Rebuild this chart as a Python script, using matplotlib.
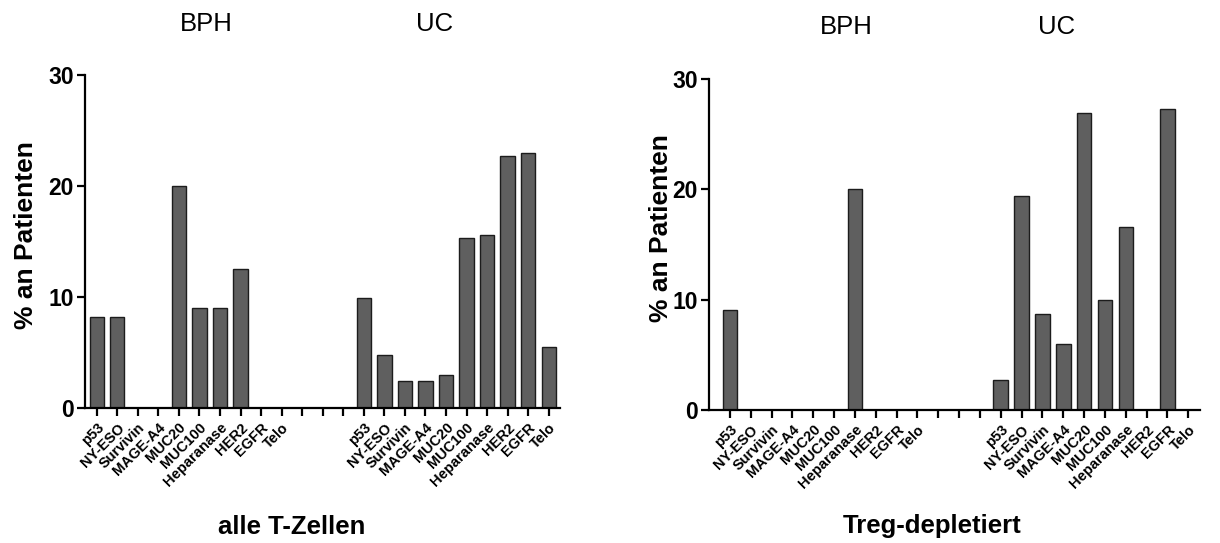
import numpy as np
import matplotlib
matplotlib.use("Agg")
import matplotlib.pyplot as plt

plt.rcParams['font.family'] = ['Liberation Sans', 'DejaVu Sans']

# ---- data ----
antigens = ["p53", "NY-ESO", "Survivin", "MAGE-A4", "MUC20", "MUC100",
            "Heparanase", "HER2", "EGFR", "Telo"]
groups = ["BPH", "UC"]

alle_bph = [8.2, 8.2, 0, 0, 20.0, 9.0, 9.0, 12.5, 0, 0]
alle_uc = [9.9, 4.8, 2.4, 2.4, 3.0, 15.3, 15.6, 22.7, 23.0, 5.5]
treg_bph = [9.1, 0, 0, 0, 0, 0, 20.0, 0, 0, 0]
treg_uc = [2.7, 19.4, 8.7, 6.0, 26.9, 10.0, 16.6, 0, 27.3, 0]

panel_titles = ["alle T-Zellen", "Treg-depletiert"]
ylabel = "% an Patienten"

# ---- layout ----
gap = 3  # empty ticks between BPH and UC
n = len(antigens)
pos_bph = np.arange(n)
pos_uc = np.arange(n) + n + gap
all_ticks = np.arange(2 * n + gap)
tick_labels = antigens + [""] * gap + antigens

bar_fill = "#5f5f5f"
bar_edge = "#1c1c1c"

fig = plt.figure(figsize=(12.2, 5.43), dpi=100)

# axes boxes in figure fraction (from pixel positions in reference)
boxes = [
    [85 / 1220, 135 / 543, 475 / 1220, 333 / 543],
    [709 / 1220, 133 / 543, 491 / 1220, 331 / 543],
]
xlims = [(-0.57, 22.55), (-1.0, 22.56)]
data = [(alle_bph, alle_uc), (treg_bph, treg_uc)]
ylab_xy = [(-0.099, 0.52), (-0.073, 0.55)]
title_xy = [(0.436, -0.357), (0.454, -0.35)]
group_xy = [[(206, 24), (435, 24)], [(846, 27), (1057, 27)]]

for i in range(2):
    ax = fig.add_axes(boxes[i])
    bph, uc = data[i]
    ax.bar(pos_bph, bph, width=0.7, color=bar_fill, edgecolor=bar_edge, linewidth=1)
    ax.bar(pos_uc, uc, width=0.7, color=bar_fill, edgecolor=bar_edge, linewidth=1)

    ax.set_xlim(*xlims[i])
    ax.set_ylim(0, 30)
    ax.set_yticks([0, 10, 20, 30])
    ax.set_xticks(all_ticks)
    ax.set_xticklabels(tick_labels, rotation=45, ha="right", rotation_mode="anchor",
                       fontsize=10.5, fontweight="bold")
    for lab in ax.get_yticklabels():
        lab.set_fontweight("bold")
        lab.set_fontsize(16.5)

    for s in ["top", "right"]:
        ax.spines[s].set_visible(False)
    for s in ["left", "bottom"]:
        ax.spines[s].set_linewidth(1.6)
    ax.tick_params(axis="both", direction="out", length=6, width=1.6, pad=2)
    ax.tick_params(axis="x", pad=3)

    ax.set_ylabel(ylabel, fontsize=19, fontweight="bold")
    ax.yaxis.set_label_coords(*ylab_xy[i])

    ax.text(title_xy[i][0], title_xy[i][1], panel_titles[i], transform=ax.transAxes,
            ha="center", va="center", fontsize=18.5, fontweight="bold")

    for g, (px, py) in zip(groups, group_xy[i]):
        fig.text(px / 1220, 1 - py / 543, g, ha="center", va="center", fontsize=18.5)

fig.savefig("out.png", dpi=100)
